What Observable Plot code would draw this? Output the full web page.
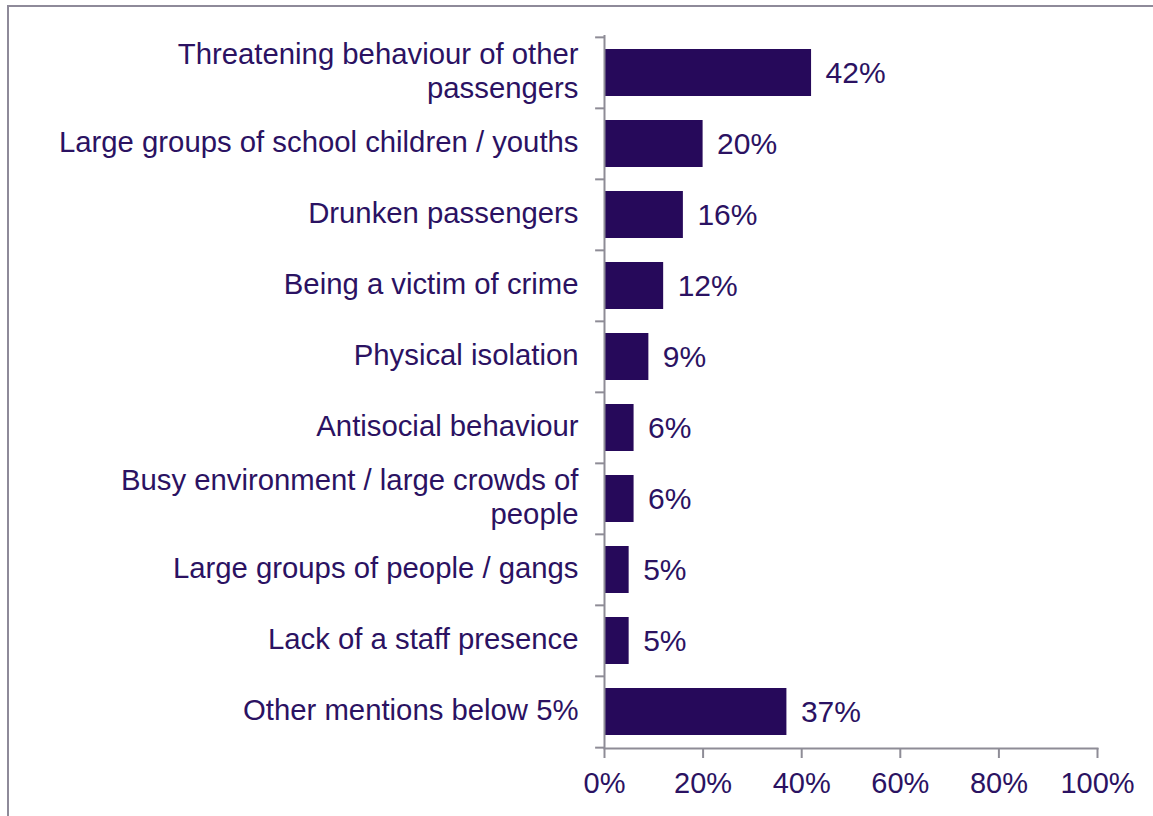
<!DOCTYPE html>
<html>
<head>
<meta charset="utf-8">
<script src="https://cdn.jsdelivr.net/npm/d3@7"></script>
<script src="https://cdn.jsdelivr.net/npm/@observablehq/plot@0.6"></script>
<style>
  html, body { margin: 0; padding: 0; background: #fff; }
  #wrap { position: relative; width: 1153px; height: 816px; overflow: hidden; }
  #border { position: absolute; left: 7px; top: 5px; right: -10px; bottom: -10px;
            border-left: 2.5px solid #8e8a99; border-top: 2.5px solid #8e8a99; }
  #chart { position: absolute; left: 0; top: 0; }
</style>
</head>
<body>
<div id="wrap"><div id="border"></div><div id="chart"></div></div>
<script>
const categories = [
  "Threatening behaviour of other passengers",
  "Large groups of school children / youths",
  "Drunken passengers",
  "Being a victim of crime",
  "Physical isolation",
  "Antisocial behaviour",
  "Busy environment / large crowds of people",
  "Large groups of people / gangs",
  "Lack of a staff presence",
  "Other mentions below 5%"
];
const displayLabels = [
  "Threatening behaviour of other\npassengers",
  "Large groups of school children / youths",
  "Drunken passengers",
  "Being a victim of crime",
  "Physical isolation",
  "Antisocial behaviour",
  "Busy environment / large crowds of\npeople",
  "Large groups of people / gangs",
  "Lack of a staff presence",
  "Other mentions below 5%"
];
const values = [42, 20, 16, 12, 9, 6, 6, 5, 5, 37];
const xTicks = [0, 20, 40, 60, 80, 100];

const data = categories.map((c, i) => ({category: c, value: values[i]}));
const labelOf = new Map(categories.map((c, i) => [c, displayLabels[i]]));

const textColor = "#2b1262";
const barColor = "#26095a";
const gray = "#8e8c96";
const step = (816 - 68 - 35) / categories.length;

const chart = Plot.plot({
  width: 1153,
  height: 816,
  marginLeft: 604,
  marginRight: 56,
  marginTop: 35,
  marginBottom: 68,
  style: {fontFamily: "'Liberation Sans', Arial, sans-serif", fontSize: "29px", color: textColor, background: "transparent"},
  x: {domain: [0, 100]},
  y: {domain: categories, paddingInner: 0.34, paddingOuter: 0.17},
  marks: [
    Plot.barX(data, {x: "value", y: "category", fill: barColor}),
    Plot.text(data, {x: "value", y: "category", text: d => d.value + "%", textAnchor: "start", dx: 14, fill: textColor, fontSize: 30}),
    Plot.axisY({tickSize: 0, tickPadding: 26, tickFormat: d => labelOf.get(d), fill: textColor, fontSize: 29.3, lineHeight: 1.16, dy: -2.5, label: null}),
    Plot.ruleY(categories, {y: d => d, x1: -1.8, x2: 0, dy: -step / 2, stroke: gray, strokeWidth: 2}),
    Plot.ruleY([categories[categories.length - 1]], {y: d => d, x1: -1.8, x2: 0, dy: step / 2, stroke: gray, strokeWidth: 2}),
    Plot.ruleX([0], {stroke: gray, strokeWidth: 2}),
    Plot.axisX({ticks: xTicks, tickFormat: d => d + "%", tickSize: 10, tickPadding: 14, stroke: gray, strokeWidth: 2, fill: textColor, fontSize: 29, label: null}),
    Plot.frame({anchor: "bottom", stroke: gray, strokeWidth: 2})
  ]
});
document.getElementById("chart").appendChild(chart);
</script>
</body>
</html>
